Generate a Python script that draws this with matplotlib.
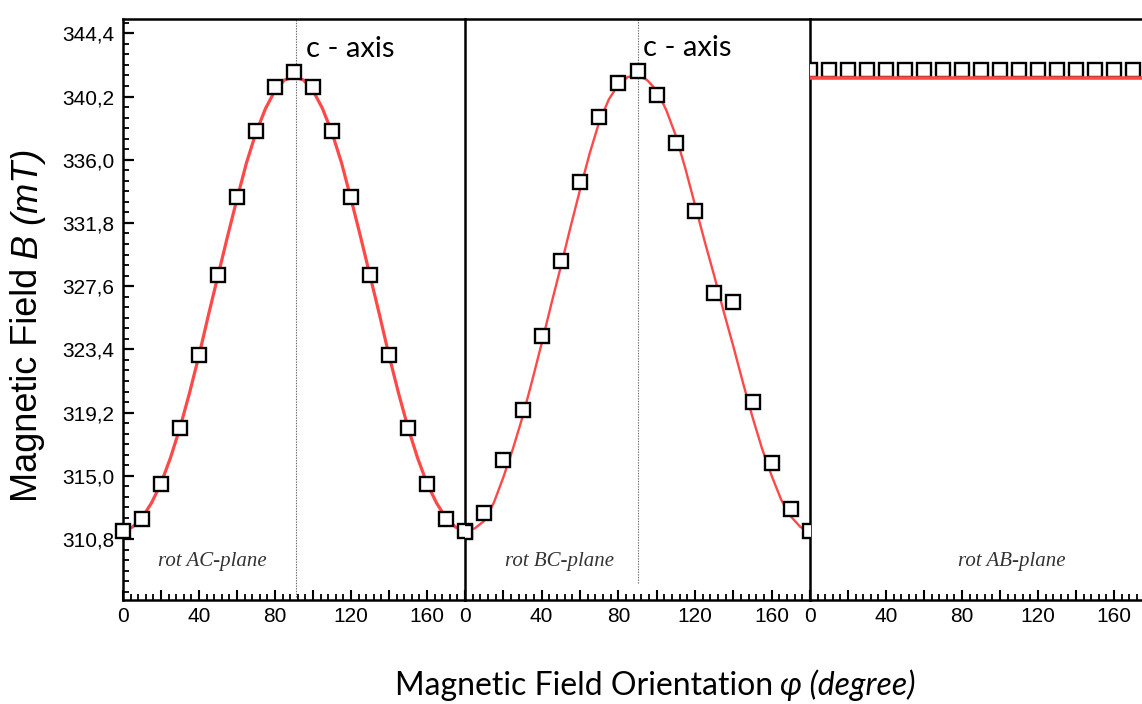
import numpy as np
import matplotlib.pyplot as plt
from matplotlib.ticker import MultipleLocator, FixedLocator, FuncFormatter

# angles of the measured points (degree)
phi = list(range(0, 181, 10))
phi_fit = list(range(0, 181, 5))

# rotation in AC-plane
b_ac = [311.33, 312.13, 314.45, 318.17, 323.02, 328.33, 333.51, 337.89, 340.81, 341.81,
        340.81, 337.89, 333.51, 328.33, 323.02, 318.2, 314.45, 312.13, 311.33]
fit_ac = [311.3, 311.6, 312.2, 313.2, 314.5, 316.2, 318.2, 320.5, 323.0, 325.7, 328.3, 330.9,
          333.4, 335.8, 337.8, 339.4, 340.6, 341.3, 341.5, 341.3, 340.6, 339.4, 337.8, 335.8,
          333.4, 330.9, 328.3, 325.7, 323.0, 320.5, 318.2, 316.2, 314.5, 313.2, 312.2, 311.6, 311.3]

# rotation in BC-plane
b_bc = [311.26, 312.53, 316.05, 319.37, 324.28, 329.26, 334.50, 338.82, 341.08, 341.88,
        340.28, 337.10, 332.58, 327.13, 326.54, 319.90, 315.85, 312.79, 311.33]
fit_bc = [311.4, 311.5, 312.0, 313.2, 314.9, 316.8, 318.9, 321.3, 323.8, 326.4, 328.9, 331.5,
          334.0, 336.4, 338.5, 340.0, 341.0, 341.5, 341.6, 341.3, 340.6, 339.3, 337.6, 335.4,
          333.0, 330.6, 328.3, 325.9, 323.6, 321.2, 318.9, 316.8, 315.0, 313.4, 312.3, 311.6, 311.3]

# rotation in AB-plane (flat)
b_ab = [341.95] * len(phi)
fit_ab = [341.4] * len(phi_fit)

y_ticks = [310.8, 315.0, 319.2, 323.4, 327.6, 331.8, 336.0, 340.2, 344.4]
plane_labels = ['rot AC-plane', 'rot BC-plane', 'rot AB-plane']

W, H = 1142, 704
fig = plt.figure(figsize=(W / 100, H / 100), dpi=100)
fig.patch.set_facecolor('white')

red = '#ff4848'
tick_font = dict(family='Liberation Sans', size=15)
bottom, top = 600, 19
# panel edges in pixels
lefts = [123, 465, 810]
widths = [342, 345, 342]

axes = []
for i, (left, pw) in enumerate(zip(lefts, widths)):
    ax = fig.add_axes([left / W, (H - bottom) / H, pw / W, (bottom - top) / H])
    ax.patch.set_visible(False)
    ax.set_xlim(0, 180)
    ax.set_ylim(306.75, 345.35)
    for s in ax.spines.values():
        s.set_linewidth(1.8)
    ax.xaxis.set_major_locator(MultipleLocator(20))
    ax.xaxis.set_minor_locator(MultipleLocator(4))
    ax.xaxis.set_major_formatter(FuncFormatter(lambda v, p: str(int(round(v))) if round(v) % 40 == 0 else ''))
    ax.tick_params(axis='x', which='major', direction='in', length=7, width=1.5, pad=5)
    ax.tick_params(axis='x', which='minor', direction='in', length=4, width=1.3)
    for lab in ax.get_xticklabels():
        lab.set_fontfamily(tick_font['family'])
        lab.set_fontsize(tick_font['size'])
    if i == 0:
        ax.yaxis.set_major_locator(FixedLocator(y_ticks))
        ax.yaxis.set_minor_locator(MultipleLocator(0.7))
        ax.yaxis.set_major_formatter(FuncFormatter(lambda v, p: f'{v:.1f}'.replace('.', ',')))
        ax.tick_params(axis='y', which='major', direction='in', length=8, width=1.6, pad=6)
        ax.tick_params(axis='y', which='minor', direction='in', length=4, width=1.3)
        for lab in ax.get_yticklabels():
            lab.set_fontfamily(tick_font['family'])
            lab.set_fontsize(tick_font['size'])
    else:
        ax.tick_params(axis='y', which='both', left=False, labelleft=False)
    if i > 0:
        ax.spines['left'].set_visible(False)
    axes.append(ax)

ax1, ax2, ax3 = axes
mk = dict(marker='s', ms=10, mfc='white', mec='black', mew=1.7, ls='none')

ax1.plot(phi_fit, fit_ac, color=red, lw=2.3, zorder=2, clip_on=False)
ax1.plot(phi, b_ac, zorder=5, clip_on=False, **mk)
ax2.plot(phi_fit, fit_bc, color=red, lw=1.7, zorder=2)
ax2.plot(phi, b_bc, zorder=3, **mk)
ax3.plot(phi, b_ab, zorder=2, **mk)
ax3.plot(phi_fit, fit_ab, color=red, lw=2.6, zorder=3)

# c-axis guides
ax1.axvline(91, ymin=0.005, ymax=1, color='#666666', lw=0.8, ls=(0, (1.2, 1.2)))
ax2.axvline(90.5, ymin=0.03, ymax=1, color='#666666', lw=0.8, ls=(0, (1.2, 1.2)))
ax1.text(96.5, 342.8, 'c - axis', family='Lato', fontsize=21, va='baseline')
ax2.text(93, 342.9, 'c - axis', family='Lato', fontsize=21, va='baseline')

for ax, lab, x in zip(axes, plane_labels, [47, 49.5, 106]):
    ax.text(x, 309.3, lab, family='Liberation Serif', style='italic', fontsize=15,
            color='#333333', ha='center', va='center')

# axis labels, upright part + italic part
fig.canvas.draw()
xl1 = fig.text(395 / W, (H - 695) / H, 'Magnetic Field Orientation', family='Lato',
               fontsize=23, va='baseline', ha='left')
fig.canvas.draw()
bb = xl1.get_window_extent()
fig.text((bb.x1 + 7) / W, (H - 695) / H, 'φ (degree)', family=['Lato', 'DejaVu Sans'],
         style='italic', fontsize=23, va='baseline', ha='left')

yl1 = fig.text(28 / W, (H - 502) / H, 'Magnetic Field', family='Liberation Sans',
               fontsize=26, rotation=90, ha='center', va='bottom')
fig.canvas.draw()
bb = yl1.get_window_extent()
fig.text(28 / W, (bb.y1 + 9) / H, 'B (mT)', family='Liberation Sans', style='italic',
         fontsize=26, rotation=90, ha='center', va='bottom')

fig.savefig('out.png', dpi=100)
